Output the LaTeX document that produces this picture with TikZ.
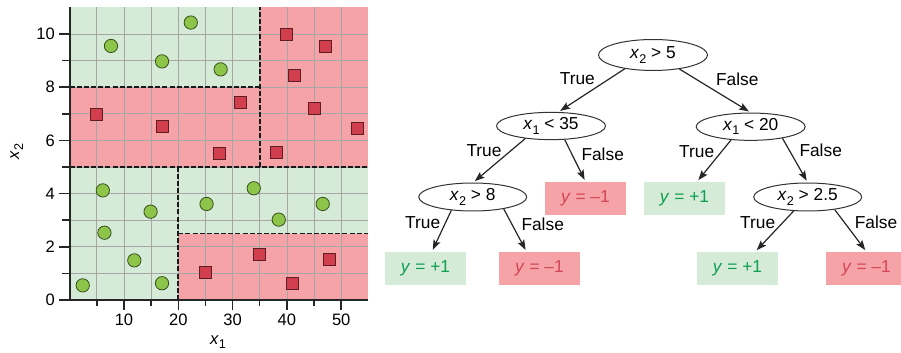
\documentclass[tikz,border=0pt]{standalone}
\usepackage{fontspec}
\setmainfont{Liberation Sans}
\usetikzlibrary{shapes.geometric,arrows.meta}
\definecolor{bggreen}{HTML}{D6EBD7}
\definecolor{bgred}{HTML}{F5A3A6}
\definecolor{ptgreen}{HTML}{8DC54A}
\definecolor{ptred}{HTML}{D13F4E}
\definecolor{txtgreen}{HTML}{0BA04F}
\definecolor{txtred}{HTML}{D2455A}
\newcommand\xv[1]{\textit{x}\raisebox{-0.45ex}{\fontsize{9.5}{9.5}\selectfont #1}}
\begin{document}
\begin{tikzpicture}[x=0.75pt,y=-0.75pt,
  treefont/.style={font=\fontsize{13}{13}\selectfont},
  dec/.style={ellipse, draw=black!80, line width=0.75pt, minimum width=81.75pt,
    minimum height=20.5pt, inner sep=0pt, treefont},
  leafg/.style={rectangle, fill=bggreen, text=txtgreen, minimum width=60.75pt,
    minimum height=24.5pt, inner sep=0pt, treefont},
  leafr/.style={leafg, fill=bgred, text=txtred},
  arr/.style={-{Stealth[length=7.5pt,width=5.5pt,inset=1.5pt]}, line width=0.9pt,
    black!85, shorten >=1.5pt},
  elab/.style={treefont, inner sep=0pt},
  gridline/.style={gray!70, line width=0.6pt},
  split/.style={black!90, line width=1.35pt, dash pattern=on 3.75pt off 1.6pt},
  axisline/.style={black!85, line width=1.5pt},
  tick/.style={black!85, line width=1.1pt},
  ticklab/.style={font=\fontsize{12.4}{12.4}\selectfont, inner sep=0pt},
  circ/.style={circle, fill=ptgreen, draw=black!60!ptgreen, line width=0.6pt,
    minimum size=10pt, inner sep=0pt},
  sq/.style={rectangle, fill=ptred, draw=black!55!ptred, line width=0.6pt,
    minimum size=9pt, inner sep=0pt}
]
\useasboundingbox (0,0) rectangle (901,353);

% ---------------- scatter plot ----------------
\begin{scope}[shift={(69.7,300)}, x=4.0725pt, y=19.95pt]
  \fill[bggreen] (0,8) rectangle (35,11);
  \fill[bgred]   (0,5) rectangle (35,8);
  \fill[bgred]   (35,5) rectangle (55,11);
  \fill[bggreen] (0,0) rectangle (20,5);
  \fill[bggreen] (20,2.5) rectangle (55,5);
  \fill[bgred]   (20,0) rectangle (55,2.5);
  \foreach \i in {5,10,...,50} \draw[gridline] (\i,0) -- (\i,11);
  \foreach \j in {1,...,10} \draw[gridline] (0,\j) -- (55,\j);
  \draw[split] (0,5) -- (55,5);
  \draw[split] (35,5) -- (35,11);
  \draw[split] (0,8) -- (35,8);
  \draw[split] (20,0) -- (20,5);
  \draw[split] (20,2.5) -- (55,2.5);
  \draw[axisline] (0,11) -- (0,0) -- (55,0);
  \foreach \i in {5,15,...,45} \draw[tick] (\i,0) -- ++(0pt,-4.5pt);
  \foreach \i in {10,20,...,50} \draw[tick] (\i,0) -- ++(0pt,-7.5pt);
  \foreach \j in {1,3,...,9} \draw[tick] (0,\j) -- ++(-5.5pt,0pt);
  \foreach \j in {0,2,...,10} \draw[tick] (0,\j) -- ++(-8pt,0pt);
  \foreach \i in {10,20,...,50} \node[ticklab, anchor=north] at ([yshift=-10pt]\i,0) {\i};
  \foreach \j in {0,2,...,10} \node[ticklab, anchor=east] at ([xshift=-11pt]0,\j) {\j};
  % circles
  \foreach \p in {(22.3,10.43),(7.6,9.55),(17.0,8.97),(27.8,8.67),(6.1,4.12),
      (14.9,3.32),(6.4,2.53),(11.9,1.49),(2.4,0.55),(17.0,0.63),(25.2,3.61),
      (33.9,4.2),(38.5,3.02),(46.6,3.61)}
    \node[circ] at \p {};
  % squares
  \foreach \p in {(39.9,10.0),(47.1,9.52),(41.4,8.45),(31.4,7.44),(4.9,6.99),
      (17.1,6.54),(45.0,7.22),(53.0,6.45),(27.5,5.51),(38.1,5.56),(25.0,1.03),
      (35.0,1.70),(47.8,1.53),(41.0,0.63)}
    \node[sq] at \p {};
\end{scope}
\node[ticklab] (xlab) at (218,341.7) {\xv{1}};
\node[ticklab, rotate=90] (ylab) at (16.7,151.7) {\xv{2}};

% ---------------- decision tree ----------------
\node[dec, minimum height=23.25pt] (root) at (653,55) {\xv{2} > 5};
\node[dec] (c1) at (551,126) {\xv{1} < 35};
\node[dec] (c2) at (750.7,126.7) {\xv{1} < 20};
\node[dec, minimum height=21pt, minimum width=81pt] (a) at (472.7,197) {\xv{2} > 8};
\node[dec, minimum height=21pt, minimum width=81pt] (b) at (807.7,197) {\xv{2} > 2.5};
\node[leafr] (L1) at (585.5,198.3) {\textit{y} = –1};
\node[leafg] (L2) at (684.5,198.3) {\textit{y} = +1};
\node[leafg] (G1) at (425.5,268.3) {\textit{y} = +1};
\node[leafr] (R1) at (539.5,268.3) {\textit{y} = –1};
\node[leafg] (G2) at (737.5,268.3) {\textit{y} = +1};
\node[leafr] (R2) at (866.5,268.3) {\textit{y} = –1};

\draw[arr] (root.206) -- (c1.62);
\draw[arr] (root.-28) -- (c2.north);
\draw[arr] (c1.206) -- (a.88);
\draw[arr] (c1.-45) -- (L1.north);
\draw[arr] (c2.214) -- (L2.53);
\draw[arr] (c2.-20) -- (b.north);
\draw[arr] (a.212) -- (G1.69);
\draw[arr] (a.-21) -- (R1.128);
\draw[arr] (b.225) -- (G2.43);
\draw[arr] (b.-25) -- (R2.north);

\node[elab] (t1) at (577.3,79) {True};
\node[elab] (f1) at (737.3,79) {False};
\node[elab] (t2) at (484,150.7) {True};
\node[elab] (f2) at (602.7,154) {False};
\node[elab] (t3) at (696.7,152) {True};
\node[elab] (f3) at (820.7,150.7) {False};
\node[elab] (t4) at (422.7,222.7) {True};
\node[elab] (f4) at (542.7,224) {False};
\node[elab] (t5) at (757.7,222.7) {True};
\node[elab] (f5) at (876,222) {False};
\end{tikzpicture}
\end{document}
